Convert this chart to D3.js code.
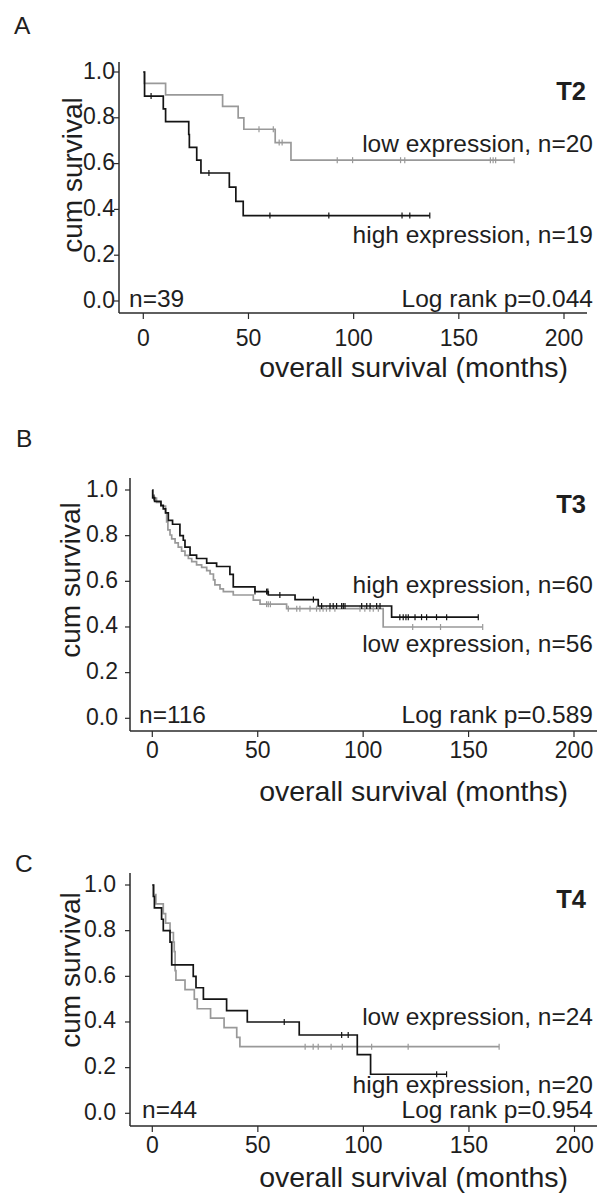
<!DOCTYPE html>
<html>
<head>
<meta charset="utf-8">
<script src="https://cdn.jsdelivr.net/npm/d3@7"></script>
<style>
  html, body { margin: 0; padding: 0; background: #fff; }
  svg { display: block; }
  text { font-family: "Liberation Sans", Arial, Helvetica, sans-serif; fill: #1e1e1e; }
</style>
</head>
<body>
<svg id="chart" width="597" height="1198"></svg>
<script>
// ---- shared axis ticks ----
const xTickValues = [0, 50, 100, 150, 200];
const yTickValues = [0, 0.2, 0.4, 0.6, 0.8, 1.0];

// ---- T2: Kaplan-Meier steps [months, cumulative survival] ----
const t2LowSteps  = [[0, 1], [0.5, 0.95], [10.6, 0.90], [37.7, 0.85], [45.1, 0.80], [47.8, 0.75], [62.7, 0.692], [70.2, 0.615]];
const t2LowEnd    = 176.3;
const t2LowCens   = [55.0, 61.8, 64.6, 66.0, 92.2, 99.5, 122.3, 124.3, 165.0, 166.3, 167.5, 176.3];
const t2HighSteps = [[0, 1], [0.6, 0.895], [9.5, 0.839], [10.6, 0.783], [21.6, 0.727], [21.9, 0.671], [25.4, 0.615], [27.4, 0.559], [40.9, 0.497], [44.0, 0.435], [47.5, 0.373]];
const t2HighEnd   = 136.2;
const t2HighCens  = [3.7, 31.2, 60.2, 88.2, 123.0, 126.7, 136.2];

// ---- T3 ----
const t3HighSteps = [[0, 1], [0.2, 0.967], [1.1, 0.95], [4.1, 0.933], [5.2, 0.917], [6.3, 0.90], [7.6, 0.867], [9.6, 0.85], [13.1, 0.80], [14.7, 0.78], [15.5, 0.75], [17.9, 0.715], [21.0, 0.70], [25.8, 0.68], [30.5, 0.665], [36.8, 0.63], [38.4, 0.576], [48.7, 0.555], [55.0, 0.54], [67.7, 0.52], [78.7, 0.492], [113.5, 0.443]];
const t3HighEnd   = 154.6;
const t3HighCens  = [0.8, 48.7, 54.2, 54.8, 60.5, 76.4, 80.3, 84.3, 85.8, 87.4, 89.8, 90.6, 91.4, 99.3, 101.7, 103.3, 106.4, 108.0, 117.4, 119.0, 120.3, 121.4, 124.6, 127.7, 130.1, 134.8, 139.6, 154.6];
const t3LowSteps  = [[0, 1], [0.2, 0.964], [2.0, 0.946], [4.1, 0.929], [6.3, 0.90], [6.8, 0.86], [7.4, 0.825], [8.4, 0.803], [9.2, 0.786], [10.8, 0.768], [12.3, 0.75], [13.9, 0.732], [15.5, 0.714], [17.1, 0.70], [18.7, 0.686], [21.0, 0.672], [23.4, 0.661], [25.8, 0.647], [27.4, 0.632], [29.0, 0.606], [29.7, 0.584], [32.1, 0.567], [33.7, 0.555], [38.4, 0.54], [47.9, 0.518], [51.1, 0.50], [63.7, 0.48], [109.5, 0.40]];
const t3LowEnd    = 156.7;
const t3LowCens   = [54.2, 55.0, 56.0, 64.5, 68.5, 70.0, 74.8, 77.9, 79.5, 81.0, 82.6, 84.2, 86.6, 98.5, 100.8, 103.2, 104.8, 107.2, 123.5, 136.7, 156.7];

// ---- T4 ----
const t4HighSteps = [[0, 1], [0.5, 0.95], [1.0, 0.90], [4.4, 0.85], [5.2, 0.80], [8.4, 0.75], [9.2, 0.65], [19.4, 0.60], [20.7, 0.55], [24.2, 0.50], [35.2, 0.45], [45.0, 0.40], [69.6, 0.343], [97.1, 0.257], [103.4, 0.171]];
const t4HighEnd   = 139.4;
const t4HighCens  = [62.5, 89.7, 92.8, 134.7, 139.4];
const t4LowSteps  = [[0, 1], [0.8, 0.958], [1.7, 0.917], [5.2, 0.875], [6.3, 0.833], [8.4, 0.792], [10.0, 0.75], [10.4, 0.708], [10.8, 0.625], [11.2, 0.583], [15.5, 0.542], [19.9, 0.50], [21.3, 0.458], [27.6, 0.417], [34.0, 0.375], [40.0, 0.333], [41.5, 0.292]];
const t4LowEnd    = 164.3;
const t4LowCens   = [72.4, 76.2, 78.6, 84.7, 90.0, 103.9, 121.2, 164.3];

// ---- texts ----
const panelLetters = ["A", "B", "C"];
const stageTags    = ["T2", "T3", "T4"];
const totalN       = ["n=39", "n=116", "n=44"];
const logRankText  = ["Log rank p=0.044", "Log rank p=0.589", "Log rank p=0.954"];
const lowLabels    = ["low expression, n=20", "low expression, n=56", "low expression, n=24"];
const highLabels   = ["high expression, n=19", "high expression, n=60", "high expression, n=20"];
const xTitle = "overall survival (months)";
const yTitle = "cum survival";

const GRAY = "#999999", BLACK = "#141414", AXIS = "#2a2a2a";

// layout of each panel (pixels)
const layouts = [
  { axX: 119, axTop: 62,  y1: 72,  y0: 301,    axY: 313,  x0: 143.3, x200: 564,   axEnd: 587,
    yLabR: 115, letter: [14, 34],  tagY: 100, lowY: 152,  highY: 243,  pY: 307,  nX: 129, nY: 307,
    cumX: 81.5, cumY: 175, xLabY: 346, xTitleY: 377 },
  { axX: 130, axTop: 478, y1: 490, y0: 718.3,  axY: 731,  x0: 152.3, x200: 574,   axEnd: 597,
    yLabR: 118, letter: [16, 447], tagY: 513, lowY: 652,  highY: 593,  pY: 723,  nX: 139, nY: 723,
    cumX: 80, cumY: 580, xLabY: 758, xTitleY: 801 },
  { axX: 130, axTop: 873, y1: 885, y0: 1113.3, axY: 1126, x0: 152.3, x200: 574.5, axEnd: 597,
    yLabR: 116, letter: [15, 872], tagY: 908, lowY: 1025, highY: 1093, pY: 1118, nX: 142, nY: 1118,
    cumX: 80, cumY: 970, xLabY: 1153, xTitleY: 1187 }
];

const panelData = [
  { low: [t2LowSteps, t2LowEnd, t2LowCens], high: [t2HighSteps, t2HighEnd, t2HighCens] },
  { low: [t3LowSteps, t3LowEnd, t3LowCens], high: [t3HighSteps, t3HighEnd, t3HighCens] },
  { low: [t4LowSteps, t4LowEnd, t4LowCens], high: [t4HighSteps, t4HighEnd, t4HighCens] }
];

const svg = d3.select("#chart");

layouts.forEach((L, i) => {
  const g = svg.append("g");
  const x = d3.scaleLinear().domain([0, 200]).range([L.x0, L.x200]);
  const y = d3.scaleLinear().domain([0, 1]).range([L.y0, L.y1]);

  // axis lines
  g.append("line").attr("x1", L.axX).attr("x2", L.axX).attr("y1", L.axTop).attr("y2", L.axY)
    .attr("stroke", AXIS).attr("stroke-width", 1.5);
  g.append("line").attr("x1", L.axX).attr("x2", L.axEnd).attr("y1", L.axY).attr("y2", L.axY)
    .attr("stroke", AXIS).attr("stroke-width", 1.5);

  // y ticks + labels
  yTickValues.forEach(v => {
    g.append("line").attr("x1", L.axX - 5).attr("x2", L.axX).attr("y1", y(v)).attr("y2", y(v))
      .attr("stroke", AXIS).attr("stroke-width", 1.2);
    g.append("text").attr("x", L.yLabR).attr("y", y(v) + 6.5).attr("text-anchor", "end")
      .attr("font-size", 23).text(d3.format(".1f")(v));
  });

  // x ticks + labels
  xTickValues.forEach(v => {
    g.append("line").attr("x1", x(v)).attr("x2", x(v)).attr("y1", L.axY).attr("y2", L.axY + 6)
      .attr("stroke", AXIS).attr("stroke-width", 1.2);
    g.append("text").attr("x", x(v)).attr("y", L.xLabY).attr("text-anchor", "middle")
      .attr("font-size", 23).text(v);
  });

  // axis titles
  g.append("text").attr("x", 568).attr("y", L.xTitleY).attr("text-anchor", "end")
    .attr("font-size", 28.5).text(xTitle);
  g.append("text").attr("transform", `translate(${L.cumX},${L.cumY}) rotate(-90)`)
    .attr("text-anchor", "middle").attr("font-size", 28).text(yTitle);

  // survival curves with censoring ticks
  const line = d3.line().x(d => x(d[0])).y(d => y(d[1])).curve(d3.curveStepAfter);
  const drawGroup = (series, color) => {
    const [steps, end, cens] = series;
    const pts = steps.concat([[end, steps[steps.length - 1][1]]]);
    g.append("path").attr("d", line(pts)).attr("fill", "none")
      .attr("stroke", color).attr("stroke-width", 1.7);
    const bis = d3.bisector(d => d[0]).right;
    cens.forEach(t => {
      const s = steps[Math.max(0, bis(steps, t) - 1)][1];
      g.append("line").attr("x1", x(t)).attr("x2", x(t)).attr("y1", y(s) - 3).attr("y2", y(s) + 3)
        .attr("stroke", color).attr("stroke-width", 1.2);
    });
  };
  drawGroup(panelData[i].low, GRAY);
  drawGroup(panelData[i].high, BLACK);

  // annotations
  g.append("text").attr("x", L.letter[0]).attr("y", L.letter[1]).attr("font-size", 24.5).text(panelLetters[i]);
  g.append("text").attr("x", 586).attr("y", L.tagY).attr("text-anchor", "end")
    .attr("font-size", 25.5).attr("font-weight", "bold").text(stageTags[i]);
  g.append("text").attr("x", 593).attr("y", L.lowY).attr("text-anchor", "end")
    .attr("font-size", 24.5).text(lowLabels[i]);
  g.append("text").attr("x", 593).attr("y", L.highY).attr("text-anchor", "end")
    .attr("font-size", 24.5).text(highLabels[i]);
  g.append("text").attr("x", 593).attr("y", L.pY).attr("text-anchor", "end")
    .attr("font-size", 24.5).text(logRankText[i]);
  g.append("text").attr("x", L.nX).attr("y", L.nY).attr("font-size", 24.5).text(totalN[i]);
});
</script>
</body>
</html>
